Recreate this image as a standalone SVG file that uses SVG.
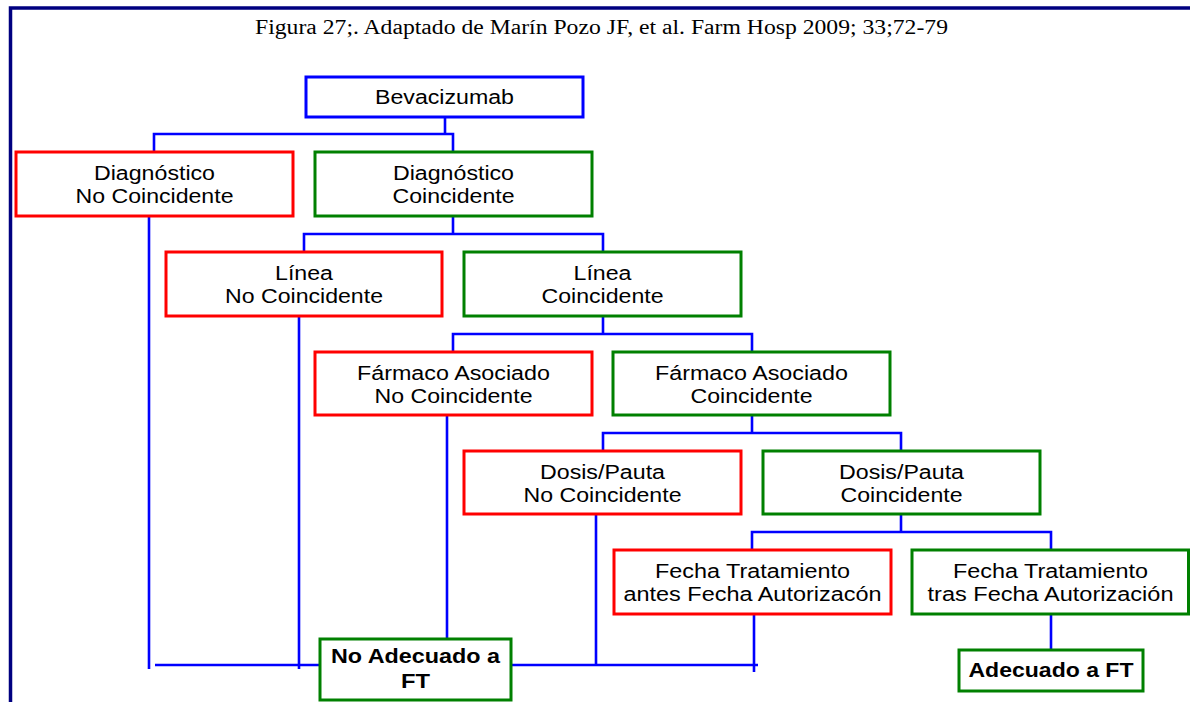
<svg xmlns="http://www.w3.org/2000/svg" width="1190" height="702" viewBox="0 0 1190 702">
  <style>
    .bg { fill: #ffffff; }
    .frame { fill: none; stroke: #000080; stroke-width: 3.5; }
    .title { font-family: "Liberation Serif", "Times New Roman", serif; font-size: 20.5px; fill: #000000; }
    .box { fill: #ffffff; stroke-width: 3; }
    .root { stroke: #0000ff; }
    .no { stroke: #ff0000; }
    .yes { stroke: #008000; }
    .lbl { font-family: "Liberation Sans", Arial, sans-serif; font-size: 20px; fill: #000000; text-anchor: middle; }
    .bold { font-weight: bold; }
    .conn { fill: none; stroke: #0000ff; stroke-width: 2.6; }
  </style>

  <rect class="bg" x="0" y="0" width="1190" height="702"/>

  <!-- page frame (top and left edges) -->
  <path class="frame" d="M10.5 702 V8 H1190"/>

  <text class="title" x="255" y="34" textLength="693" lengthAdjust="spacingAndGlyphs">Figura 27;. Adaptado de Marín Pozo JF, et al. Farm Hosp 2009; 33;72-79</text>

  <!-- connectors -->
  <g id="connectors">
    <path class="conn" d="M445 117 V134"/>
    <path class="conn" d="M154 152 V134 H453 V152"/>
    <path class="conn" d="M453 216 V234"/>
    <path class="conn" d="M304 252 V234 H603 V252"/>
    <path class="conn" d="M603 316 V334"/>
    <path class="conn" d="M453 352 V334 H752 V352"/>
    <path class="conn" d="M752 415 V433"/>
    <path class="conn" d="M603 451 V433 H901 V451"/>
    <path class="conn" d="M901 514 V532"/>
    <path class="conn" d="M752 550 V532 H1051 V550"/>
    <path class="conn" d="M1051 614 V650"/>
    <!-- non-matching branches down to the common result -->
    <path class="conn" d="M149 216 V669"/>
    <path class="conn" d="M299 316 V669"/>
    <path class="conn" d="M447 415 V639"/>
    <path class="conn" d="M596 514 V666"/>
    <path class="conn" d="M754 614 V672"/>
    <path class="conn" d="M155 665 H758"/>
  </g>

  <g id="bevacizumab">
    <rect class="box root" x="306" y="77" width="277" height="40"/>
    <text class="lbl" x="444.5" y="104" textLength="139" lengthAdjust="spacingAndGlyphs">Bevacizumab</text>
  </g>

  <g id="diagnostico-no">
    <rect class="box no" x="16" y="152" width="277" height="64"/>
    <text class="lbl" x="154.5" y="180" textLength="121" lengthAdjust="spacingAndGlyphs">Diagnóstico</text>
    <text class="lbl" x="154.5" y="203" textLength="158" lengthAdjust="spacingAndGlyphs">No Coincidente</text>
  </g>

  <g id="diagnostico-si">
    <rect class="box yes" x="315" y="152" width="277" height="64"/>
    <text class="lbl" x="453.5" y="180" textLength="121" lengthAdjust="spacingAndGlyphs">Diagnóstico</text>
    <text class="lbl" x="453.5" y="203" textLength="122" lengthAdjust="spacingAndGlyphs">Coincidente</text>
  </g>

  <g id="linea-no">
    <rect class="box no" x="166" y="252" width="276" height="64"/>
    <text class="lbl" x="304" y="280" textLength="58" lengthAdjust="spacingAndGlyphs">Línea</text>
    <text class="lbl" x="304" y="303" textLength="158" lengthAdjust="spacingAndGlyphs">No Coincidente</text>
  </g>

  <g id="linea-si">
    <rect class="box yes" x="464" y="252" width="277" height="64"/>
    <text class="lbl" x="602.5" y="280" textLength="58" lengthAdjust="spacingAndGlyphs">Línea</text>
    <text class="lbl" x="602.5" y="303" textLength="122" lengthAdjust="spacingAndGlyphs">Coincidente</text>
  </g>

  <g id="farmaco-no">
    <rect class="box no" x="315" y="352" width="277" height="63"/>
    <text class="lbl" x="453.5" y="380" textLength="193" lengthAdjust="spacingAndGlyphs">Fármaco Asociado</text>
    <text class="lbl" x="453.5" y="403" textLength="158" lengthAdjust="spacingAndGlyphs">No Coincidente</text>
  </g>

  <g id="farmaco-si">
    <rect class="box yes" x="613" y="352" width="277" height="63"/>
    <text class="lbl" x="751.5" y="380" textLength="193" lengthAdjust="spacingAndGlyphs">Fármaco Asociado</text>
    <text class="lbl" x="751.5" y="403" textLength="122" lengthAdjust="spacingAndGlyphs">Coincidente</text>
  </g>

  <g id="dosis-no">
    <rect class="box no" x="464" y="451" width="277" height="63"/>
    <text class="lbl" x="602.5" y="479" textLength="125" lengthAdjust="spacingAndGlyphs">Dosis/Pauta</text>
    <text class="lbl" x="602.5" y="502" textLength="158" lengthAdjust="spacingAndGlyphs">No Coincidente</text>
  </g>

  <g id="dosis-si">
    <rect class="box yes" x="763" y="451" width="277" height="63"/>
    <text class="lbl" x="901.5" y="479" textLength="125" lengthAdjust="spacingAndGlyphs">Dosis/Pauta</text>
    <text class="lbl" x="901.5" y="502" textLength="122" lengthAdjust="spacingAndGlyphs">Coincidente</text>
  </g>

  <g id="fecha-antes">
    <rect class="box no" x="614" y="550" width="277" height="64"/>
    <text class="lbl" x="752.5" y="578" textLength="195" lengthAdjust="spacingAndGlyphs">Fecha Tratamiento</text>
    <text class="lbl" x="752.5" y="601" textLength="258" lengthAdjust="spacingAndGlyphs">antes Fecha Autorizacón</text>
  </g>

  <g id="fecha-tras">
    <rect class="box yes" x="912" y="550" width="276.5" height="64"/>
    <text class="lbl" x="1050.5" y="578" textLength="195" lengthAdjust="spacingAndGlyphs">Fecha Tratamiento</text>
    <text class="lbl" x="1050.5" y="601" textLength="246" lengthAdjust="spacingAndGlyphs">tras Fecha Autorización</text>
  </g>

  <g id="no-adecuado">
    <rect class="box yes" x="320" y="639" width="191" height="61"/>
    <text class="lbl bold" x="415.5" y="663" textLength="169" lengthAdjust="spacingAndGlyphs">No Adecuado a</text>
    <text class="lbl bold" x="415.5" y="688" textLength="29" lengthAdjust="spacingAndGlyphs">FT</text>
  </g>

  <g id="adecuado">
    <rect class="box yes" x="959" y="650" width="184" height="41"/>
    <text class="lbl bold" x="1051" y="677" textLength="165" lengthAdjust="spacingAndGlyphs">Adecuado a FT</text>
  </g>
</svg>
